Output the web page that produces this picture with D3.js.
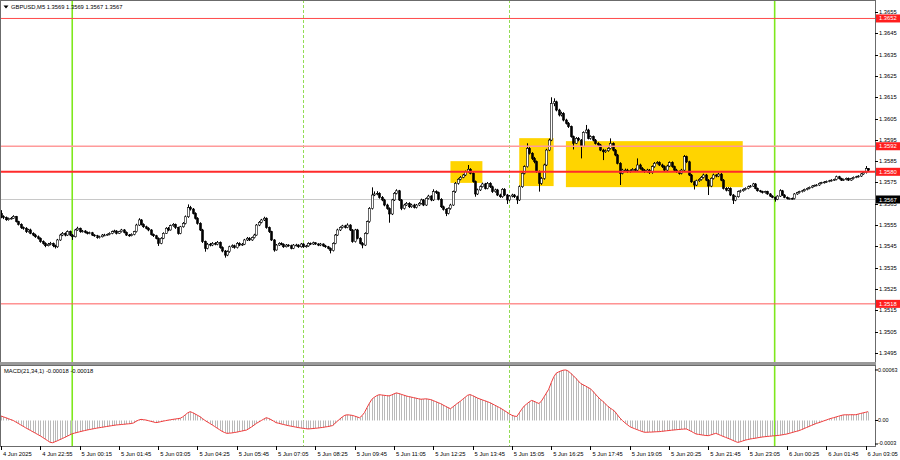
<!DOCTYPE html>
<html><head><meta charset="utf-8">
<script src="https://cdn.jsdelivr.net/npm/d3@7"></script>
<style>html,body{margin:0;padding:0;background:#fff;}svg{display:block;font-family:"Liberation Sans",Arial,sans-serif;}</style>
</head><body><svg id="c" width="900" height="460"></svg>
<script>
// ---- DATA (prices in pips above basePrice) ----
const basePrice = 1.35, pip = 0.0001;
const opens = [
60.5,59.0,58.5,57.5,58.0,58.2,59.0,56.6,55.3,53.8,
53.5,51.9,52.7,51.1,50.3,49.5,48.8,47.2,46.4,45.3,
46.0,46.4,45.3,44.8,48.0,50.3,51.1,50.3,51.9,50.3,
49.5,52.7,53.5,51.9,52.2,51.6,51.1,51.4,50.3,50.0,
49.1,49.5,50.3,50.3,50.6,51.1,51.9,52.2,51.1,51.9,
52.7,51.6,50.3,50.0,50.6,51.9,55.0,57.4,55.3,54.2,
53.5,52.7,50.6,50.0,48.8,46.4,48.8,51.1,53.5,52.7,
54.7,55.3,53.8,51.1,54.2,55.8,58.9,63.2,62.5,60.5,
58.2,55.8,52.7,47.2,44.1,46.0,45.6,46.4,46.0,46.9,
44.4,42.8,40.9,42.5,44.8,45.3,44.4,46.4,45.6,46.0,
48.0,48.8,48.0,49.1,50.3,55.0,56.3,57.4,58.2,53.8,
51.9,48.0,43.3,45.6,46.4,46.0,44.8,45.6,45.3,44.1,
45.6,45.6,44.8,46.1,44.8,45.2,46.4,46.1,46.7,46.1,
45.6,46.1,45.2,44.8,44.1,43.0,46.4,50.3,52.7,53.9,
54.6,53.9,55.0,52.7,47.2,52.7,48.8,46.4,45.6,51.1,
56.6,62.8,69.1,69.6,69.9,68.0,66.8,64.4,62.8,60.2,
66.8,69.9,71.1,66.8,62.8,64.4,65.2,63.6,64.4,63.3,
64.4,65.2,66.8,64.4,67.5,68.6,66.8,70.7,70.2,67.1,
63.6,62.4,60.5,62.8,64.4,70.7,74.6,76.5,77.4,78.5,
80.1,81.2,79.3,75.4,69.6,71.5,73.0,74.3,72.2,74.6,
73.0,70.7,71.5,69.1,68.3,71.8,69.1,66.8,68.6,69.1,
68.3,66.8,73.0,79.3,82.4,91.0,88.7,86.3,84.8,80.1,
74.6,76.9,83.2,90.2,94.9,112.1,112.9,109.0,106.7,107.4,
104.3,102.8,101.2,96.5,93.4,95.7,94.9,92.0,98.5,99.6,
95.7,96.5,94.9,93.3,92.6,90.2,89.4,89.9,91.0,93.3,
90.2,87.9,84.0,79.3,80.8,80.8,80.1,80.5,81.1,80.8,
83.2,81.6,80.8,80.1,80.8,79.6,82.4,84.0,84.3,83.2,
82.4,80.8,82.7,84.3,82.4,80.8,80.1,79.3,80.8,87.1,
84.7,78.5,75.3,73.8,75.8,76.4,77.4,78.5,76.1,73.3,
76.9,78.5,78.0,78.9,76.1,72.2,71.4,72.2,69.1,66.7,
68.3,70.7,71.1,71.7,72.2,73.0,73.3,74.3,72.2,71.1,
70.7,70.2,70.7,69.6,68.6,68.0,67.1,68.6,71.1,69.1,
68.0,67.4,67.5,67.4,69.6,70.2,70.7,71.1,71.7,72.2,
72.7,73.3,73.6,73.8,74.6,74.9,75.2,75.5,75.8,76.1,
76.4,77.7,76.8,76.1,76.4,76.9,76.1,76.8,77.4,77.7,
78.0,79.0,79.6,81.5];
const highs = [
62.0,59.6,59.0,58.5,58.8,59.6,59.3,57.0,55.8,54.3,
54.0,53.2,53.3,51.6,50.9,50.1,49.2,47.8,46.9,46.6,
47.1,46.8,45.8,48.5,50.9,51.7,51.6,52.5,52.4,50.8,
53.2,54.2,53.8,52.7,52.6,52.0,51.9,51.8,50.7,50.4,
50.0,50.8,50.9,51.0,51.6,52.4,52.8,52.6,52.3,53.2,
53.1,52.0,50.8,51.1,52.3,55.6,58.2,57.8,55.8,54.7,
54.0,53.1,51.0,50.4,49.2,49.3,51.6,54.0,54.1,55.2,
55.9,55.7,54.2,54.6,56.4,59.5,64.7,64.0,63.0,61.0,
58.7,56.3,53.2,47.7,46.6,46.6,47.0,47.0,47.5,47.3,
45.0,43.3,43.1,45.3,45.9,45.8,47.0,46.9,46.6,48.5,
49.4,49.3,49.6,50.9,55.5,56.9,57.9,58.9,58.6,54.3,
52.3,48.4,46.1,46.9,46.9,46.4,46.1,46.0,45.8,46.1,
46.2,46.0,46.6,46.5,45.7,46.9,46.8,47.2,46.9,46.5,
46.6,46.4,45.7,45.2,44.5,46.9,50.8,53.3,54.4,55.1,
55.1,55.8,55.4,53.1,53.2,53.2,49.3,47.0,51.6,57.1,
63.4,72.7,70.8,70.9,70.4,68.6,67.3,65.0,63.3,67.3,
70.5,71.8,71.5,67.2,65.0,65.8,65.7,65.0,65.0,64.9,
65.8,67.4,67.2,68.0,69.2,69.0,71.8,71.3,70.7,67.6,
64.1,62.9,63.3,65.0,71.2,75.2,77.0,78.0,79.0,80.6,
83.2,81.7,79.8,75.9,72.1,73.6,74.9,74.8,75.2,75.1,
73.5,72.1,72.0,69.7,72.3,72.3,69.6,69.1,69.7,69.6,
68.8,73.6,79.9,83.0,93.4,91.6,89.2,87.0,85.3,80.6,
77.5,83.8,90.8,95.6,115.0,114.5,113.4,109.6,108.2,108.0,
104.9,103.4,101.7,97.0,96.3,96.3,95.4,99.0,102.0,100.2,
97.1,97.0,95.4,93.9,93.1,90.8,90.5,91.5,95.7,93.8,
90.7,88.4,84.5,81.4,81.5,81.4,81.1,81.7,81.7,86.3,
83.8,82.2,81.3,81.4,81.3,83.0,84.6,85.0,84.9,83.8,
83.0,83.3,84.9,84.9,82.9,81.4,80.6,81.4,87.9,87.6,
85.2,79.0,75.8,76.3,77.0,78.0,79.1,79.0,76.6,77.4,
79.1,78.9,79.5,79.4,76.6,72.8,72.8,72.7,69.6,68.8,
71.2,71.6,72.2,72.7,73.5,73.8,74.8,74.7,72.6,71.5,
71.1,71.1,71.1,70.0,69.0,68.4,69.0,71.8,71.5,69.5,
68.4,67.9,67.9,70.0,70.6,71.1,71.5,72.1,72.6,73.1,
73.7,74.0,74.2,75.0,75.3,75.6,75.9,76.2,76.5,76.8,
78.2,78.1,77.2,76.8,77.3,77.3,77.2,77.8,78.1,78.4,
79.4,80.1,82.7,81.7];
const lows = [
58.2,57.8,57.0,57.1,57.6,57.9,56.2,54.8,53.2,52.8,
51.3,51.5,50.7,49.8,49.0,48.2,46.7,45.8,44.6,45.0,
45.5,44.6,44.0,44.3,47.6,49.8,49.7,49.9,49.8,48.0,
49.2,52.3,51.4,51.5,51.1,50.6,50.7,49.9,49.5,48.6,
48.7,49.2,49.8,50.0,50.2,50.7,51.5,50.6,50.8,51.5,
51.1,49.9,49.5,49.7,50.2,51.5,54.6,54.8,53.7,53.0,
52.1,50.1,49.4,48.3,45.2,46.0,48.4,50.8,52.1,52.4,
54.2,53.2,50.5,50.7,53.8,55.3,58.4,61.8,60.0,57.6,
55.2,52.2,46.6,42.5,43.6,45.0,45.1,45.5,45.5,43.9,
42.2,39.7,40.4,42.0,44.3,43.9,44.0,45.1,45.2,45.6,
47.5,47.5,47.6,48.7,50.0,54.5,55.8,56.9,53.3,51.3,
47.5,42.5,43.0,45.2,45.5,44.3,44.5,44.8,43.6,43.7,
45.0,44.3,44.4,44.3,44.4,44.8,45.6,45.7,45.7,45.1,
45.1,44.8,44.3,43.6,41.7,42.6,46.0,49.9,52.2,53.4,
53.4,53.5,52.2,46.7,46.8,48.3,45.9,44.1,45.2,50.7,
56.1,62.3,68.6,69.0,67.4,66.2,63.8,62.2,56.1,59.7,
66.3,69.4,66.3,62.0,62.3,64.0,63.0,63.1,62.8,62.8,
63.9,64.7,63.9,64.0,67.0,66.2,66.3,69.6,66.6,63.0,
61.8,59.2,60.0,62.2,64.0,70.1,74.0,76.0,77.0,78.0,
79.6,78.8,74.9,68.3,69.1,71.0,72.6,71.7,71.8,72.4,
70.1,70.2,68.6,67.8,67.8,68.6,64.9,66.2,68.0,67.7,
64.9,66.3,72.5,78.8,82.0,88.1,85.5,84.0,79.5,70.7,
73.9,76.3,82.7,89.7,94.4,110.8,108.4,106.0,106.0,103.7,
102.2,100.6,96.0,90.5,93.0,94.3,86.3,91.6,98.0,95.2,
95.1,94.3,92.8,92.0,89.7,85.5,88.9,89.4,90.5,89.6,
87.3,83.5,73.8,78.8,80.2,79.5,79.6,80.0,80.2,80.3,
81.0,80.2,79.5,79.6,79.0,79.1,81.9,83.5,82.7,81.8,
80.2,80.3,82.2,81.9,80.2,79.5,78.7,78.8,80.3,84.1,
78.0,74.8,71.7,73.3,75.3,75.9,76.9,75.6,69.1,72.8,
76.4,77.4,77.5,75.6,71.7,70.8,70.9,68.6,64.9,66.2,
67.9,70.2,70.7,71.3,71.8,72.6,72.9,71.8,70.7,70.3,
69.8,69.8,69.2,68.2,67.6,66.0,66.7,68.2,68.7,67.6,
67.0,67.0,67.0,67.0,69.2,69.8,70.3,70.7,71.3,71.8,
72.3,73.0,73.2,73.4,74.2,74.5,74.8,75.1,75.4,75.7,
76.0,76.4,75.7,75.7,76.0,75.7,75.8,76.4,77.0,77.3,
77.6,78.6,79.2,80.4];
const closes = [
59.0,58.5,57.5,58.0,58.2,59.0,56.6,55.3,53.8,53.5,
51.9,52.7,51.1,50.3,49.5,48.8,47.2,46.4,45.3,46.0,
46.4,45.3,44.8,48.0,50.3,51.1,50.3,51.9,50.3,49.5,
52.7,53.5,51.9,52.2,51.6,51.1,51.4,50.3,50.0,49.1,
49.5,50.3,50.3,50.6,51.1,51.9,52.2,51.1,51.9,52.7,
51.6,50.3,50.0,50.6,51.9,55.0,57.4,55.3,54.2,53.5,
52.7,50.6,50.0,48.8,46.4,48.8,51.1,53.5,52.7,54.7,
55.3,53.8,51.1,54.2,55.8,58.9,63.2,62.5,60.5,58.2,
55.8,52.7,47.2,44.1,46.0,45.6,46.4,46.0,46.9,44.4,
42.8,40.9,42.5,44.8,45.3,44.4,46.4,45.6,46.0,48.0,
48.8,48.0,49.1,50.3,55.0,56.3,57.4,58.2,53.8,51.9,
48.0,43.3,45.6,46.4,46.0,44.8,45.6,45.3,44.1,45.6,
45.6,44.8,46.1,44.8,45.2,46.4,46.1,46.7,46.1,45.6,
46.1,45.2,44.8,44.1,43.0,46.4,50.3,52.7,53.9,54.6,
53.9,55.0,52.7,47.2,52.7,48.8,46.4,45.6,51.1,56.6,
62.8,69.1,69.6,69.9,68.0,66.8,64.4,62.8,60.2,66.8,
69.9,71.1,66.8,62.8,64.4,65.2,63.6,64.4,63.3,64.4,
65.2,66.8,64.4,67.5,68.6,66.8,70.7,70.2,67.1,63.6,
62.4,60.5,62.8,64.4,70.7,74.6,76.5,77.4,78.5,80.1,
81.2,79.3,75.4,69.6,71.5,73.0,74.3,72.2,74.6,73.0,
70.7,71.5,69.1,68.3,71.8,69.1,66.8,68.6,69.1,68.3,
66.8,73.0,79.3,82.4,91.0,88.7,86.3,84.8,80.1,74.6,
76.9,83.2,90.2,94.9,112.1,112.9,109.0,106.7,107.4,104.3,
102.8,101.2,96.5,93.4,95.7,94.9,92.0,98.5,99.6,95.7,
96.5,94.9,93.3,92.6,90.2,89.4,89.9,91.0,93.3,90.2,
87.9,84.0,79.3,80.8,80.8,80.1,80.5,81.1,80.8,83.2,
81.6,80.8,80.1,80.8,79.6,82.4,84.0,84.3,83.2,82.4,
80.8,82.7,84.3,82.4,80.8,80.1,79.3,80.8,87.1,84.7,
78.5,75.3,73.8,75.8,76.4,77.4,78.5,76.1,73.3,76.9,
78.5,78.0,78.9,76.1,72.2,71.4,72.2,69.1,66.7,68.3,
70.7,71.1,71.7,72.2,73.0,73.3,74.3,72.2,71.1,70.7,
70.2,70.7,69.6,68.6,68.0,67.1,68.6,71.1,69.1,68.0,
67.4,67.5,67.4,69.6,70.2,70.7,71.1,71.7,72.2,72.7,
73.3,73.6,73.8,74.6,74.9,75.2,75.5,75.8,76.1,76.4,
77.7,76.8,76.1,76.4,76.9,76.1,76.8,77.4,77.7,78.0,
79.0,79.6,81.5,80.8];
// MACD(21,34,1) values, in millionths
const macd = [
56,45,34,23,11,0,-18,-36,-54,-72,
-90,-107,-124,-141,-158,-175,-192,-212,-232,-252,
-272,-277,-265,-252,-238,-225,-210,-195,-180,-165,
-157,-149,-141,-133,-126,-119,-113,-107,-101,-95,
-90,-85,-80,-75,-70,-65,-60,-56,-53,-50,
-47,-44,-41,-38,-30,-10,5,14,10,6,
-2,-10,-18,-26,-22,-15,-8,-2,4,9,
14,19,23,28,45,70,95,110,98,82,
65,48,25,2,-18,-36,-55,-75,-95,-115,
-135,-150,-160,-158,-155,-150,-145,-138,-132,-125,
-119,-100,-80,-58,-36,-18,0,18,35,25,
10,-8,-27,-34,-42,-50,-57,-64,-70,-76,
-82,-88,-93,-97,-101,-105,-103,-100,-97,-94,
-90,-86,-81,-76,-70,-63,-35,-8,20,45,
65,71,68,64,55,44,34,60,100,160,
215,265,290,310,322,318,314,310,307,318,
332,344,336,326,316,306,298,292,285,278,
271,265,268,270,266,260,248,235,222,210,
193,177,161,147,170,195,218,240,265,290,
315,323,310,295,280,268,257,246,235,223,
208,192,176,160,142,123,103,83,65,55,
50,95,140,180,205,230,250,240,225,212,
240,290,340,390,470,540,588,605,618,628,
630,615,588,560,528,495,462,445,430,412,
395,365,330,295,265,240,210,180,155,135,
110,70,30,0,-28,-52,-76,-90,-102,-114,
-126,-137,-147,-146,-145,-144,-142,-140,-139,-135,
-132,-128,-125,-121,-118,-115,-112,-109,-107,-105,
-120,-135,-152,-168,-173,-178,-183,-187,-189,-180,
-170,-160,-172,-185,-198,-210,-222,-235,-248,-262,
-273,-265,-255,-245,-238,-231,-226,-221,-216,-210,
-206,-202,-199,-196,-193,-190,-188,-184,-179,-174,
-168,-160,-151,-142,-134,-126,-113,-100,-87,-74,
-61,-48,-36,-27,-16,-5,6,17,27,35,
44,53,62,70,71,71,72,72,72,80,
88,95,102,110];
const timeLabels = ["4 Jun 2025","4 Jun 22:55","5 Jun 00:15","5 Jun 01:45","5 Jun 03:05","5 Jun 04:25","5 Jun 05:45","5 Jun 07:05","5 Jun 08:25","5 Jun 09:45","5 Jun 11:05","5 Jun 12:25","5 Jun 13:45","5 Jun 15:05","5 Jun 16:25","5 Jun 17:45","5 Jun 19:05","5 Jun 20:25","5 Jun 21:45","5 Jun 23:05","6 Jun 00:25","6 Jun 01:45","6 Jun 03:05"];
const timeLabelBars = [0,16,32,48,64,80,96,112,128,144,160,176,192,208,224,240,256,272,288,304,320,336,352];
const priceTicks = ["1.3655","1.3645","1.3635","1.3625","1.3615","1.3605","1.3595","1.3585","1.3575","1.3565","1.3555","1.3545","1.3535","1.3525","1.3515","1.3505","1.3495"];
const levelPrices = [1.3652, 1.3592, 1.3580, 1.3518];
const levelLabels = ["1.3652","1.3592","1.3580","1.3518"];
const bidPrice = 1.3567, bidLabel = "1.3567";
const boxStartBar = [183, 211, 230], boxEndBar = [196, 225, 302];
const boxTop = [1.35850, 1.35958, 1.35944], boxBottom = [1.35748, 1.35733, 1.35728];
const dayBreakBars = [29, 315];
const sessionBars = [123, 207];
const macdTicks = [0.00063, 0, -0.0003];
const macdTickLabels = ["0.00063", "0.00", "-0.0003"];
const headerText = "GBPUSD,M5  1.3569 1.3569 1.3567 1.3567";
const macdText = "MACD(21,34,1) -0.00018 -0.00018";

// ---- DRAWING ----
const svg = d3.select("#c");
const W = 900, plotR = 875, mainTop = 1, mainBot = 362, mTop = 365, mBot = 446;
const n = closes.length;
const x = d3.scaleLinear().domain([0, 353]).range([1, 868]);
const y = d3.scaleLinear().domain([1.34907, 1.36602]).range([mainBot, mainTop]);
const ym = d3.scaleLinear().domain([-0.000318, 0.000692]).range([mBot, mTop]);
const P = v => basePrice + v * pip;
const fs = 5.8;

svg.append("rect").attr("width", W).attr("height", 460).attr("fill", "#fff");
const defs = svg.append("defs");
defs.append("clipPath").attr("id", "cm").append("rect").attr("x", 1).attr("y", mainTop).attr("width", plotR - 1).attr("height", mainBot - mainTop);
defs.append("clipPath").attr("id", "cd").append("rect").attr("x", 1).attr("y", mTop).attr("width", plotR - 1).attr("height", mBot - mTop);

const gm = svg.append("g").attr("clip-path", "url(#cm)");
const gd = svg.append("g").attr("clip-path", "url(#cd)");

// yellow boxes
gm.selectAll("rect.box").data(d3.range(boxStartBar.length)).join("rect")
  .attr("x", i => x(boxStartBar[i])).attr("width", i => x(boxEndBar[i]) - x(boxStartBar[i]))
  .attr("y", i => y(boxTop[i])).attr("height", i => y(boxBottom[i]) - y(boxTop[i]))
  .attr("fill", "#ffd400");

// bid line
gm.append("line").attr("x1", 1).attr("x2", plotR).attr("y1", Math.round(y(bidPrice)) + 0.5).attr("y2", Math.round(y(bidPrice)) + 0.5)
  .attr("stroke", "#c8c8c8").attr("stroke-width", 1);

// vertical markers (both panels)
[gm, gd].forEach(g => {
  g.selectAll("line.sess").data(sessionBars).join("line")
    .attr("x1", d => Math.round(x(d)) + 0.5).attr("x2", d => Math.round(x(d)) + 0.5)
    .attr("y1", 0).attr("y2", 460).attr("stroke", "#93dc55").attr("stroke-width", 1).attr("stroke-dasharray", "3,2");
  g.selectAll("line.day").data(dayBreakBars).join("line")
    .attr("x1", d => x(d)).attr("x2", d => x(d))
    .attr("y1", 0).attr("y2", 460).attr("stroke", "#7ee81c").attr("stroke-width", 1.6);
});

// candles
const idx = d3.range(n);
const cg = gm.append("g");
cg.selectAll("line.w").data(idx).join("line")
  .attr("x1", i => Math.round(x(i)) + 0.5).attr("x2", i => Math.round(x(i)) + 0.5)
  .attr("y1", i => y(P(highs[i]))).attr("y2", i => y(P(lows[i])))
  .attr("stroke", "#000").attr("stroke-width", 1);
cg.selectAll("rect.b").data(idx).join("rect")
  .attr("x", i => Math.round(x(i)) - 0.5).attr("width", 2)
  .attr("y", i => y(P(Math.max(opens[i], closes[i]))))
  .attr("height", i => Math.max(0.8, Math.abs(y(P(opens[i])) - y(P(closes[i])))))
  .attr("fill", i => closes[i] >= opens[i] ? "#fff" : "#000")
  .attr("stroke", "#000").attr("stroke-width", 0.6);

// horizontal level lines
const lvlColor = ["#ff4a4a", "#ff9a9a", "#ff2b2b", "#ff5a5a"];
const lvlWidth = [1, 1.6, 2, 1];
gm.selectAll("line.lvl").data(d3.range(levelPrices.length)).join("line")
  .attr("x1", 1).attr("x2", plotR).attr("y1", i => y(levelPrices[i])).attr("y2", i => y(levelPrices[i]))
  .attr("stroke", i => lvlColor[i]).attr("stroke-width", i => lvlWidth[i]);

// MACD histogram and signal line
const z = ym(0);
gd.selectAll("line.h").data(idx).join("line")
  .attr("x1", i => Math.round(x(i)) + 0.5).attr("x2", i => Math.round(x(i)) + 0.5)
  .attr("y1", z).attr("y2", i => ym(macd[i] * 1e-6))
  .attr("stroke", "#b9b9b9").attr("stroke-width", 1);
gd.append("path").datum(idx)
  .attr("d", d3.line().x(i => x(i)).y(i => ym(macd[i] * 1e-6)))
  .attr("fill", "none").attr("stroke", "#f03a3a").attr("stroke-width", 1);

// frames
svg.append("rect").attr("x", 0.5).attr("y", 0.5).attr("width", plotR).attr("height", mainBot)
  .attr("fill", "none").attr("stroke", "#6b6b6b").attr("stroke-width", 1);
svg.append("rect").attr("x", 0).attr("y", mainBot).attr("width", plotR + 1).attr("height", mTop - mainBot).attr("fill", "#9a9a9a");
svg.append("rect").attr("x", 0.5).attr("y", mTop + 0.5).attr("width", plotR).attr("height", mBot - mTop)
  .attr("fill", "none").attr("stroke", "#6b6b6b").attr("stroke-width", 1);

// price axis (right)
const ax = svg.append("g");
const tickP = priceTicks.map(Number);
ax.selectAll("line.pt").data(tickP).join("line")
  .attr("x1", plotR).attr("x2", plotR + 3).attr("y1", d => Math.round(y(d)) + 0.5).attr("y2", d => Math.round(y(d)) + 0.5)
  .attr("stroke", "#000");
ax.selectAll("text.pt").data(priceTicks).join("text")
  .attr("x", plotR + 4).attr("y", d => y(+d)).attr("dy", "0.35em")
  .attr("font-size", fs).attr("fill", "#000").text(d => d);

// level price boxes
const boxes = levelPrices.map((p, i) => ({p, t: levelLabels[i], c: "#ff1e1e"})).concat([{p: bidPrice, t: bidLabel, c: "#000"}]);
ax.selectAll("rect.lb").data(boxes).join("rect")
  .attr("x", plotR + 1).attr("y", d => y(d.p) - 4).attr("width", W - plotR - 1).attr("height", 8).attr("fill", d => d.c);
ax.selectAll("text.lb").data(boxes).join("text")
  .attr("x", plotR + 4).attr("y", d => y(d.p)).attr("dy", "0.35em")
  .attr("font-size", fs).attr("fill", "#fff").text(d => d.t);

// MACD axis
ax.selectAll("line.mt").data(macdTicks).join("line")
  .attr("x1", plotR).attr("x2", plotR + 3).attr("y1", d => Math.min(mBot - 2, ym(d))).attr("y2", d => Math.min(mBot - 2, ym(d)))
  .attr("stroke", "#000");
ax.selectAll("text.mt").data(d3.range(macdTicks.length)).join("text")
  .attr("x", plotR + 3).attr("y", i => Math.min(mBot - 3, Math.max(mTop + 5, ym(macdTicks[i])))).attr("dy", "0.35em")
  .attr("font-size", 5.4).attr("fill", "#000").text(i => macdTickLabels[i]);

// time axis
ax.selectAll("line.tt").data(timeLabelBars).join("line")
  .attr("x1", d => Math.round(x(d)) + 0.5).attr("x2", d => Math.round(x(d)) + 0.5)
  .attr("y1", mBot).attr("y2", mBot + 4).attr("stroke", "#000");
ax.selectAll("text.tt").data(d3.range(timeLabels.length)).join("text")
  .attr("x", i => x(timeLabelBars[i]) + 2).attr("y", mBot + 9.5)
  .attr("font-size", fs).attr("fill", "#000").text(i => timeLabels[i]);

// headers
svg.append("path").attr("d", "M3.5,5.5 L8.5,5.5 L6,8.5 Z").attr("fill", "#000");
svg.append("text").attr("x", 11).attr("y", 9).attr("font-size", fs).attr("fill", "#000").text(headerText);
svg.append("text").attr("x", 4).attr("y", mTop + 8).attr("font-size", fs).attr("fill", "#000").text(macdText);
</script></body></html>
